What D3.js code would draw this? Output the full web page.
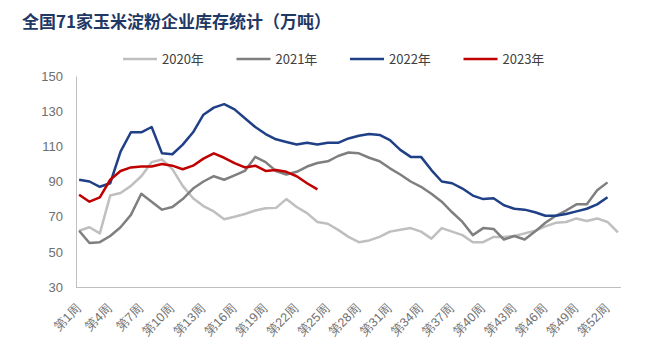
<!DOCTYPE html>
<html><head><meta charset="utf-8">
<script src="https://cdn.jsdelivr.net/npm/d3@7"></script>
<style>
html,body{margin:0;padding:0;background:#fff;}
svg{display:block;font-family:"Noto Sans CJK SC","Noto Sans",sans-serif;}
.xt text{-webkit-font-smoothing:antialiased;text-rendering:geometricPrecision;}
</style></head>
<body><svg id="c" width="651" height="363"></svg>
<script>
const title = "全国71家玉米淀粉企业库存统计（万吨）";
const weeks = d3.range(1, 54);
const xTickWeeks = [1,4,7,10,13,16,19,22,25,28,31,34,37,40,43,46,49,52];
const yTicks = [30,50,70,90,110,130,150];
const seriesNames = ["2020年","2021年","2022年","2023年"];
const seriesColors = ["#bfbfbf","#7f7f7f","#1f3f86","#c00000"];
const v2020 = [62,64,60.5,82,83.5,87.5,93,101,102.5,97,87.5,80.5,76,73,68.5,70,71.5,73.5,74.8,75,80,75.5,72,67,66,62.5,58.5,55.5,56.5,58.5,61.5,62.5,63.5,61.5,57.5,63.5,61.5,59.5,55.5,55.5,58.5,58.5,59,60.5,62,64.5,66.5,67,69,67.5,69,67,61];
const v2021 = [62,55,55.5,59,64,71,83,78.5,74,75.5,80,86,90,93,91,93.5,96,104,101,96,94,95.5,98.5,100.5,101.5,104.5,106.5,106,103.5,101.5,97.5,94,90,87,83,78.5,72.5,67,59.5,63.5,63,57,59,57,61.5,66.5,70.5,73.5,77,77,85,89.5];
const v2022 = [91,90,87,89,107,118,118,121,106,105.5,111,118,128,132,134,131,126,121,117,114,112.5,111,112,111,112,112,114.5,116,117,116.5,113.5,108,104,104,96.5,90,89,86,82,80,80.5,76.5,74.5,74,72.5,70.5,70.5,71.5,73,74.5,77,81];
const v2023 = [82.5,78.5,81,91,96,98,98.5,98.5,100,99,97,99,103,106,103.5,100.5,98,99,96,96.5,95.5,93,89,85.5];
const allSeries = [v2020, v2021, v2022, v2023];

const svg = d3.select("#c");
const x = d3.scalePoint().domain(weeks).range([76, 621]).padding(0.3);
const y = d3.scaleLinear().domain([30, 150]).range([287, 76]);

svg.append("text").attr("x", 22).attr("y", 28).text(title)
  .attr("font-size", 17).attr("font-weight", "bold").attr("fill", "#1f3864");

// legend
const lg = svg.append("g");
seriesNames.forEach((n, i) => {
  const lx = 123 + i * 113.5;
  lg.append("line").attr("x1", lx).attr("x2", lx + 34).attr("y1", 59).attr("y2", 59)
    .attr("stroke", seriesColors[i]).attr("stroke-width", 2.5);
  lg.append("text").attr("x", lx + 39).attr("y", 63.5).text(n)
    .attr("font-size", 13).attr("fill", "#404040");
});

// y axis
const ya = svg.append("g").attr("transform", "translate(76,0)")
  .call(d3.axisLeft(y).tickValues(yTicks).tickSize(0).tickPadding(13));
ya.select(".domain").attr("stroke", "#bfbfbf");
ya.selectAll("text").attr("font-size", 13).style("fill", "#6e6e6e")
  .attr("font-family", "\"Liberation Sans\",Arial,sans-serif");

// x axis
const xa = svg.append("g").attr("class", "xt").attr("transform", "translate(0,287)")
  .call(d3.axisBottom(x).tickValues(xTickWeeks).tickSize(0).tickFormat(d => "第" + d + "周"));
xa.select(".domain").attr("stroke", "#bfbfbf").attr("d", "M76,0.5H621");
xa.selectAll("text").attr("font-size", 12.5).style("fill", "#707070")
  .attr("text-anchor", "end").attr("dy", null).attr("y", null)
  .attr("transform", "translate(2,22) rotate(-45)");

// lines
const line = d3.line().x((d, i) => x(i + 1)).y(d => y(d));
allSeries.forEach((s, i) => {
  svg.append("path").datum(s).attr("d", line).attr("fill", "none")
    .attr("stroke", seriesColors[i]).attr("stroke-width", 2.5)
    .attr("stroke-linejoin", "round");
});
</script></body></html>
